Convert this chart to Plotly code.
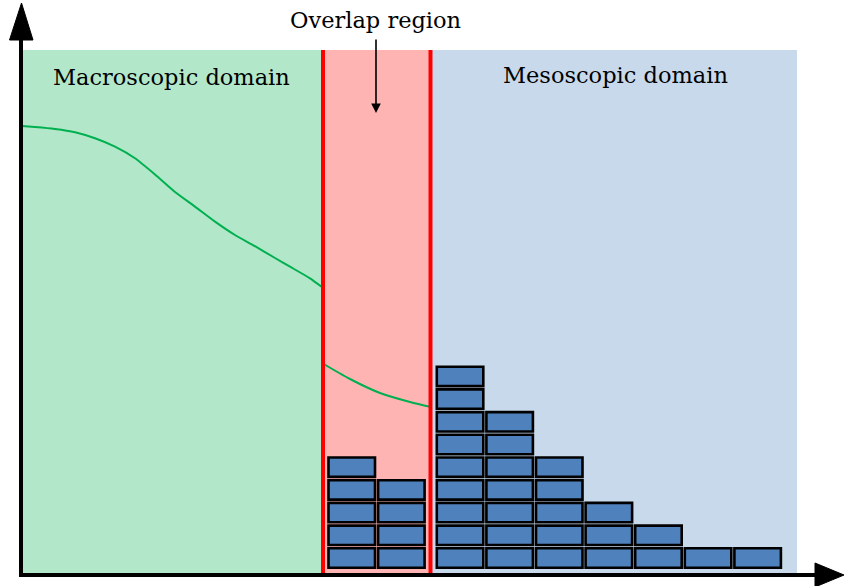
import plotly.graph_objects as go

# ---------------- data ----------------
region_labels = ["Macroscopic domain", "Overlap region", "Mesoscopic domain"]

# block stacks (number of blocks per column)
overlap_counts = [5, 4]
meso_counts = [9, 7, 5, 3, 2, 1, 1]

# continuum curve (macroscopic part and overlap part), schematic units (y grows downward)
macro_x = [22, 35, 55, 75, 95, 115, 135, 155, 175, 195, 215, 235, 255, 275, 290, 310, 322]
macro_y = [126, 127, 129, 132.3, 138.3, 146.7, 158.3, 174.5, 192, 206.6, 221.6, 235, 246.2, 258, 266.7, 278.3, 287]
overlap_x = [322, 350, 380, 410, 431]
overlap_y = [363, 379, 393, 402, 407]

# ---------------- layout constants ----------------
W, H = 844, 586
X_AXIS_Y = 575
Y_AXIS_X = 21
TOP = 50
MACRO_X0, OVER_X0, MESO_X0, MESO_X1 = 22, 322, 431, 797

GREEN_BG = "#b3e7c9"
RED_BG = "#ffb4b4"
BLUE_BG = "#c9d9ec"
BLOCK = "#4f81bd"
CURVE = "#00b050"
FONT = dict(family="DejaVu Serif", size=22.5, color="black")

BLOCK_W = 46.5
BLOCK_H = 19.4
PITCH_X = 49.6
PITCH_Y = 22.7
BOTTOM = 567.7

fig = go.Figure()

shapes = []
# background regions
for x0, x1, c in [(MACRO_X0, OVER_X0, GREEN_BG), (OVER_X0, MESO_X0, RED_BG), (MESO_X0, MESO_X1, BLUE_BG)]:
    shapes.append(dict(type="rect", xref="x", yref="y", x0=x0, x1=x1, y0=TOP, y1=X_AXIS_Y - 2,
                       fillcolor=c, line=dict(width=0), layer="below"))

# curves
fig.add_trace(go.Scatter(x=macro_x, y=macro_y, mode="lines",
                         line=dict(color=CURVE, width=2, shape="spline", smoothing=0.5),
                         hoverinfo="skip"))
fig.add_trace(go.Scatter(x=overlap_x, y=overlap_y, mode="lines",
                         line=dict(color=CURVE, width=2, shape="spline", smoothing=0.8),
                         hoverinfo="skip"))

# red boundary lines
for xv in [OVER_X0 + 1, MESO_X0 - 0.5]:
    shapes.append(dict(type="line", xref="x", yref="y", x0=xv, x1=xv, y0=TOP, y1=X_AXIS_Y - 2,
                       line=dict(color="#ff0000", width=4), layer="above"))

# blocks
def add_blocks(start_x, counts):
    for i, n in enumerate(counts):
        x0 = start_x + i * PITCH_X
        for j in range(n):
            y1 = BOTTOM - j * PITCH_Y
            shapes.append(dict(type="rect", xref="x", yref="y", x0=x0, x1=x0 + BLOCK_W,
                               y0=y1 - BLOCK_H, y1=y1, fillcolor=BLOCK,
                               line=dict(color="black", width=2.6), layer="above"))

add_blocks(328.5, overlap_counts)
add_blocks(436.8, meso_counts)

# axes
shapes.append(dict(type="line", xref="x", yref="y", x0=Y_AXIS_X, x1=Y_AXIS_X, y0=X_AXIS_Y + 2, y1=38,
                   line=dict(color="black", width=4), layer="above"))
shapes.append(dict(type="line", xref="x", yref="y", x0=Y_AXIS_X - 2, x1=818, y0=X_AXIS_Y, y1=X_AXIS_Y,
                   line=dict(color="black", width=4), layer="above"))
# arrowheads
shapes.append(dict(type="path", xref="x", yref="y",
                   path=f"M {Y_AXIS_X - 11.5},40 L {Y_AXIS_X + 0.5},3 L {Y_AXIS_X + 12},40 Z",
                   fillcolor="black", line=dict(color="black", width=1), layer="above"))
shapes.append(dict(type="path", xref="x", yref="y",
                   path=f"M 815,{X_AXIS_Y - 12} L 844,{X_AXIS_Y} L 815,{X_AXIS_Y + 12} Z",
                   fillcolor="black", line=dict(color="black", width=1), layer="above"))

annotations = [
    dict(x=171, y=77, xref="x", yref="y", text=region_labels[0], showarrow=False, font=FONT),
    dict(x=375, y=20, xref="x", yref="y", text=region_labels[1], showarrow=False, font=FONT),
    dict(x=615, y=75, xref="x", yref="y", text=region_labels[2], showarrow=False, font=FONT),
    dict(x=376, y=113, xref="x", yref="y", ax=376, ay=38, axref="x", ayref="y", text="",
         showarrow=True, arrowhead=2, arrowsize=1.2, arrowwidth=1.6, arrowcolor="black"),
]

fig.update_layout(
    width=W, height=H,
    margin=dict(l=0, r=0, t=0, b=0),
    paper_bgcolor="white", plot_bgcolor="white",
    xaxis=dict(range=[0, W], visible=False, fixedrange=True),
    yaxis=dict(range=[H, 0], visible=False, fixedrange=True),
    showlegend=False,
    shapes=shapes,
    annotations=annotations,
)

fig.write_html("out.html", config={"displayModeBar": False},
               post_script="document.body.style.margin='0';document.body.style.overflow='hidden';")
